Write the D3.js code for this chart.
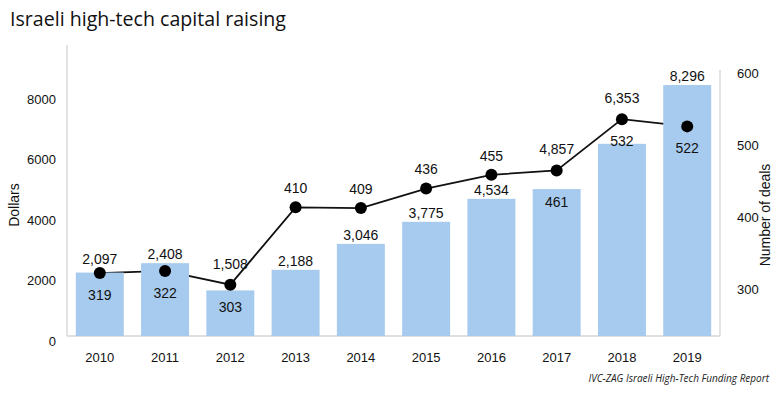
<!DOCTYPE html>
<html>
<head>
<meta charset="utf-8">
<script src="https://cdn.jsdelivr.net/npm/d3@7"></script>
<style>
body { margin: 0; background: #fff; }
</style>
</head>
<body>
<script>
var lata = ["2010","2011","2012","2013","2014","2015","2016","2017","2018","2019"]
var dolary = [2097, 2408, 1508, 2188, 3046, 3775, 4534, 4857, 6353, 8296]
var transakcje = [319, 322, 303, 410, 409, 436, 455, 461, 532, 522]
var tickiLewe = [0, 2000, 4000, 6000, 8000]
var tickiPrawe = [300, 400, 500, 600]
// where the labels sit (above / below the dot, on the bar)
var gdzieTransakcje = ["pod","pod","pod","nad","nad","nad","nad","wbar","pod","pod"]
var gdzieDolary = ["styk","bar","kropka","bar","bar","bar","bar","kropka","kropka","bar"]

var szer = 784, wys = 394
var lewo = 67, prawo = 720, dol = 336

var obrazek = d3.select("body").append("svg")
  .attr("width", szer)
  .attr("height", wys)
  .style("font-family", "Arial, 'Liberation Sans', sans-serif")

var x = d3.scaleBand().domain(lata).range([lewo, prawo]).paddingInner(0.265).paddingOuter(0.135)
var yL = d3.scaleLinear().domain([0, 9600]).range([dol, 45.6])
var yP = d3.scaleLinear().domain([232, 600]).range([dol, 70])

// title
obrazek.append("text").attr("x", 10).attr("y", 26)
  .style("font-family", "'Open Sans', sans-serif").style("font-size", "19.6px").style("fill", "#111")
  .text("Israeli high-tech capital raising")

// axis lines
obrazek.append("line").attr("x1", lewo).attr("x2", lewo).attr("y1", 45).attr("y2", dol)
  .style("stroke", "#d4d4d4").style("stroke-width", 1.3)
obrazek.append("line").attr("x1", prawo).attr("x2", prawo).attr("y1", yP(600)).attr("y2", dol)
  .style("stroke", "#d4d4d4").style("stroke-width", 1.3)
obrazek.append("line").attr("x1", lewo).attr("x2", prawo).attr("y1", dol).attr("y2", dol)
  .style("stroke", "#d4d4d4").style("stroke-width", 1.3)

// left ticks
obrazek.append("g").selectAll("text").data(tickiLewe).enter().append("text")
  .attr("x", 56).attr("y", function(d){ return yL(d) + 5 })
  .attr("text-anchor", "end").attr("dy", "0.35em")
  .style("font-size", "13px").style("fill", "#111")
  .text(function(d){ return d })

// right ticks
obrazek.append("g").selectAll("text").data(tickiPrawe).enter().append("text")
  .attr("x", 737).attr("y", function(d){ return yP(d) + 3 })
  .attr("dy", "0.35em")
  .style("font-size", "13px").style("fill", "#111")
  .text(function(d){ return d })

// years
obrazek.append("g").selectAll("text").data(lata).enter().append("text")
  .attr("x", function(d){ return x(d) + x.bandwidth()/2 }).attr("y", 357)
  .attr("text-anchor", "middle").attr("dy", "0.35em")
  .style("font-size", "13px").style("fill", "#111")
  .text(function(d){ return d })

// axis titles
obrazek.append("text").attr("transform", "translate(19,205) rotate(-90)")
  .attr("text-anchor", "middle")
  .style("font-size", "14px").style("fill", "#111")
  .text("Dollars")
obrazek.append("text").attr("transform", "translate(770,215) rotate(-90)")
  .attr("text-anchor", "middle")
  .style("font-size", "14px").style("fill", "#111")
  .text("Number of deals")

// line (drawn under the bars)
var linia = d3.line()
  .x(function(d, i){ return x(lata[i]) + x.bandwidth()/2 })
  .y(function(d){ return yP(d) })
obrazek.append("path").datum(transakcje).attr("d", linia)
  .style("fill", "none").style("stroke", "#111").style("stroke-width", 1.8)

// bars
obrazek.append("g").selectAll("rect").data(dolary).enter().append("rect")
  .attr("x", function(d, i){ return x(lata[i]) })
  .attr("width", x.bandwidth())
  .attr("y", function(d){ return yL(d) })
  .attr("height", function(d){ return dol - yL(d) })
  .style("fill", "#a7cbee")

// dots
obrazek.append("g").selectAll("circle").data(transakcje).enter().append("circle")
  .attr("cx", function(d, i){ return x(lata[i]) + x.bandwidth()/2 })
  .attr("cy", function(d){ return yP(d) })
  .attr("r", 6)
  .style("fill", "#000")

// deal labels
obrazek.append("g").selectAll("text").data(transakcje).enter().append("text")
  .attr("x", function(d, i){ return x(lata[i]) + x.bandwidth()/2 })
  .attr("y", function(d, i){
    var zwrot
    if (gdzieTransakcje[i] === "nad")
      {zwrot = yP(d) - 19}
    else if (gdzieTransakcje[i] === "wbar")
      {zwrot = yL(dolary[i]) + 13}
    else
      {zwrot = yP(d) + 22}
    return zwrot
  })
  .attr("text-anchor", "middle").attr("dy", "0.35em")
  .style("font-size", "14px").style("fill", "#111")
  .text(function(d){ return d })

// dollar labels
obrazek.append("g").selectAll("text").data(dolary).enter().append("text")
  .attr("x", function(d, i){ return x(lata[i]) + x.bandwidth()/2 })
  .attr("y", function(d, i){
    var zwrot
    if (gdzieDolary[i] === "kropka")
      {zwrot = yP(transakcje[i]) - 21}
    else if (gdzieDolary[i] === "styk")
      {zwrot = yP(transakcje[i]) - 14}
    else
      {zwrot = yL(d) - 9}
    return zwrot
  })
  .attr("text-anchor", "middle").attr("dy", "0.35em")
  .style("font-size", "14px").style("fill", "#111")
  .text(function(d){ return d3.format(",")(d) })

// source
obrazek.append("text").attr("x", 769).attr("y", 382)
  .attr("text-anchor", "end")
  .style("font-family", "'Open Sans', sans-serif").style("font-style", "italic")
  .style("font-size", "10px").style("fill", "#222")
  .text("IVC-ZAG Israeli High-Tech Funding Report")
</script>
</body>
</html>
